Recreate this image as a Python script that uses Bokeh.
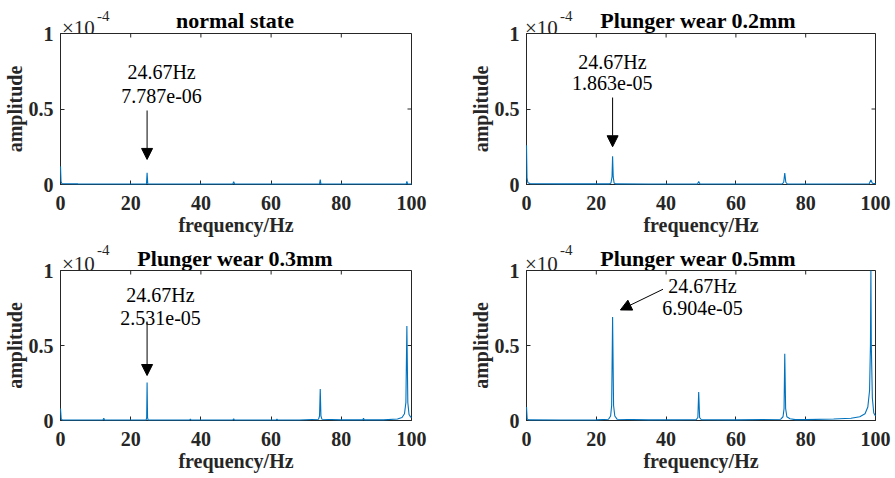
from bokeh.plotting import figure
from bokeh.models import Label, Arrow, NormalHead, Range1d, FixedTicker, Div
from bokeh.layouts import row, column
from bokeh.embed import file_html
from bokeh.resources import INLINE

# ---------------- data ----------------
titles = ["normal state", "Plunger wear 0.2mm", "Plunger wear 0.3mm", "Plunger wear 0.5mm"]
peak_freq_text = "24.67Hz"
peak_amp_text = ["7.787e-06", "1.863e-05", "2.531e-05", "6.904e-05"]
peak_freq = 24.67
x_ticks = [0, 20, 40, 60, 80, 100]
y_ticks = [0, 0.5, 1]
y_tick_labels = {0: "0", 0.5: "0.5", 1: "1"}
x_label = "frequency/Hz"
y_label = "amplitude"
y_scale_text = "\u00d710"
y_scale_exp = "-4"

# amplitudes in units of 1e-4
freq_normal = [0, 0.15, 0.4, 5, 15, 24.3, 24.5, 24.67, 24.85, 25.05, 35, 49.1, 49.34, 49.6,
               60, 73.8, 74.0, 74.2, 85, 98.5, 98.68, 98.9, 100]
amp_normal = [0.12, 0.02, 0.006, 0.004, 0.003, 0.003, 0.006, 0.07787, 0.006, 0.003, 0.003, 0.003, 0.018, 0.003,
              0.003, 0.003, 0.032, 0.003, 0.003, 0.004, 0.02, 0.004, 0.003]

freq_02 = [0, 0.15, 0.4, 1.0, 10, 23.8, 24.2, 24.5, 24.67, 24.85, 25.1, 25.5, 35, 49.0, 49.34, 49.7,
           60, 73.3, 73.7, 74.0, 74.3, 74.7, 85, 98.2, 98.68, 99.1, 100]
amp_02 = [0.26, 0.04, 0.012, 0.006, 0.004, 0.004, 0.01, 0.05, 0.1863, 0.05, 0.01, 0.004, 0.003, 0.003, 0.02, 0.003,
          0.003, 0.004, 0.015, 0.075, 0.015, 0.004, 0.003, 0.005, 0.03, 0.008, 0.006]

freq_03 = [0, 0.2, 0.5, 6, 12.1, 12.33, 12.55, 18, 24.4, 24.55, 24.67, 24.8, 24.95, 30, 36.8, 37.0, 37.2,
           43, 49.1, 49.34, 49.55, 55, 61.45, 61.67, 61.9, 68, 73.5, 73.8, 74.0, 74.2, 74.5, 80,
           86.1, 86.33, 86.55, 92, 96, 97.3, 98.0, 98.4, 98.68, 98.95, 99.3, 99.7, 100]
amp_03 = [0.08, 0.01, 0.004, 0.003, 0.003, 0.015, 0.003, 0.003, 0.004, 0.02, 0.2531, 0.02, 0.004, 0.003, 0.003, 0.01, 0.003,
          0.003, 0.003, 0.012, 0.003, 0.003, 0.003, 0.01, 0.003, 0.003, 0.008, 0.03, 0.21, 0.03, 0.008, 0.004,
          0.004, 0.015, 0.004, 0.004, 0.01, 0.02, 0.045, 0.12, 0.63, 0.12, 0.04, 0.025, 0.02]

freq_05 = [0, 0.2, 0.6, 10, 20, 23.5, 24.1, 24.4, 24.67, 24.95, 25.3, 26, 35, 48.6, 49.1, 49.34, 49.6, 50.1,
           60, 72.8, 73.5, 73.8, 74.0, 74.25, 74.6, 75.5, 77, 80, 88, 93, 95.5, 97, 97.8, 98.3, 98.55,
           98.68, 98.8, 99.1, 99.5, 100]
amp_05 = [0.09, 0.01, 0.004, 0.003, 0.004, 0.008, 0.03, 0.1, 0.6904, 0.1, 0.03, 0.008, 0.004, 0.005, 0.02, 0.19, 0.02, 0.005,
          0.004, 0.008, 0.025, 0.08, 0.445, 0.08, 0.025, 0.012, 0.006, 0.006, 0.01, 0.015, 0.025, 0.045, 0.09, 0.2, 0.5,
          1.0, 0.5, 0.15, 0.05, 0.03]

freqs = [freq_normal, freq_02, freq_03, freq_05]
amps = [amp_normal, amp_02, amp_03, amp_05]

# ---------------- styling ----------------
FONT = "Liberation Serif"
AX = "#262626"
BLUE = "#0072BD"
TICK = 4

# annotation placement (data units)
ann = [
    dict(tx=28.8, ty1=0.748, ty2=0.589, xs=peak_freq, ys=0.49, xe=peak_freq, ye=0.166),
    dict(tx=24.6, ty1=0.81, ty2=0.67, xs=peak_freq, ys=0.576, xe=peak_freq, ye=0.25),
    dict(tx=28.5, ty1=0.835, ty2=0.685, xs=peak_freq, ys=0.66, xe=peak_freq, ye=0.30),
    dict(tx=50.4, ty1=0.90, ty2=0.75, xs=39.1, ys=0.875, xe=26.9, ye=0.737),
]


def header(i, w, h, frame_left, title_center, x10_top, exp_top, title_top):
    html = (
        f'<div style="position:relative;width:{w}px;height:{h}px;font-family:\'{FONT}\';overflow:visible;">'
        f'<span style="position:absolute;left:{frame_left + 3}px;top:{x10_top}px;font-size:21px;line-height:1;'
        f'color:{AX};white-space:nowrap;">{y_scale_text}</span>'
        f'<span style="position:absolute;left:{frame_left + 38}px;top:{exp_top}px;font-size:15px;line-height:1;'
        f'color:{AX};white-space:nowrap;">{y_scale_exp}</span>'
        f'<span style="position:absolute;left:{title_center - 200}px;width:400px;text-align:center;top:{title_top}px;'
        f'font-size:22px;font-weight:bold;line-height:1;color:black;white-space:nowrap;">{titles[i]}</span>'
        f'</div>'
    )
    return Div(text=html, width=w, height=h, margin=0,
               styles={"padding": "0", "margin": "0", "overflow": "visible"})


def make(i, w, h, bl, br, bt, bb):
    p = figure(width=w, height=h, x_range=Range1d(0, 100), y_range=Range1d(0, 1), title=None,
               output_backend="svg", toolbar_location=None,
               min_border_left=bl, min_border_right=br, min_border_top=bt, min_border_bottom=bb)
    p.background_fill_color = "white"
    p.border_fill_alpha = 0
    p.xgrid.visible = False
    p.ygrid.visible = False
    p.outline_line_color = AX
    p.outline_line_alpha = 1
    p.outline_line_width = 1

    for ax, tk in ((p.xaxis[0], x_ticks), (p.yaxis[0], y_ticks)):
        ax.ticker = FixedTicker(ticks=tk)
        ax.major_tick_in = TICK
        ax.major_tick_out = 0
        ax.minor_tick_line_color = None
        ax.axis_line_color = AX
        ax.major_tick_line_color = AX
        ax.major_label_text_font = FONT
        ax.major_label_text_font_style = "bold"
        ax.major_label_text_font_size = "20px"
        ax.major_label_text_color = AX
        ax.axis_label_text_font = FONT
        ax.axis_label_text_font_style = "bold"
        ax.axis_label_text_font_size = "20px"
        ax.axis_label_text_color = AX
        ax.axis_label_standoff = 1
    p.xaxis[0].major_label_standoff = 11
    p.yaxis[0].major_label_standoff = 7
    p.yaxis[0].axis_label_standoff = 0
    p.yaxis[0].major_label_overrides = y_tick_labels
    p.xaxis[0].axis_label = x_label
    p.yaxis[0].axis_label = y_label

    fw = w - bl - br
    fh = h - bt - bb
    # inside ticks on the top and right edges (box on)
    p.segment(x0=x_ticks, y0=[1] * len(x_ticks), x1=x_ticks, y1=[1 - TICK / fh] * len(x_ticks),
              line_color=AX, line_width=1)
    p.segment(x0=[100] * len(y_ticks), y0=y_ticks, x1=[100 - TICK * 100 / fw] * len(y_ticks), y1=y_ticks,
              line_color=AX, line_width=1)

    p.line(freqs[i], amps[i], line_color=BLUE, line_width=1.1, level="overlay")

    a = ann[i]
    for ty, txt in ((a["ty1"], peak_freq_text), (a["ty2"], peak_amp_text[i])):
        p.add_layout(Label(x=a["tx"], y=ty, text=txt, text_font=FONT, text_font_size="20px",
                           text_align="center", text_baseline="middle", text_color="black"))
    p.add_layout(Arrow(end=NormalHead(size=11, fill_color="black", line_color="black", line_width=1),
                       x_start=a["xs"], y_start=a["ys"], x_end=a["xe"], y_end=a["ye"],
                       line_color="black", line_width=1))
    return p


# page layout (no body margin observed):
# top:    header 0..20 (text overflows downward), figure 20..241, frame y 33..184
# bottom: header 241..257, figure 257..477, frame y 270..420
# left column frame x 59..411 ; right column (starts at 466) frame x 522..875
h1 = header(0, 466, 20, 59, 235, 18, 9, 10)
h2 = header(1, 428, 20, 56, 232, 18, 9, 10)
p1 = make(0, 466, 221, 59, 55, 13, 57)
p2 = make(1, 428, 221, 56, 19, 13, 57)
h3 = header(2, 466, 16, 59, 235, 13, 2, 7)
h4 = header(3, 428, 16, 56, 232, 13, 2, 7)
p3 = make(2, 466, 220, 59, 55, 13, 57)
p4 = make(3, 428, 220, 56, 19, 13, 57)

layout = column(row(h1, h2), row(p1, p2), row(h3, h4), row(p3, p4))
open("out.html", "w").write(file_html(layout, INLINE))
